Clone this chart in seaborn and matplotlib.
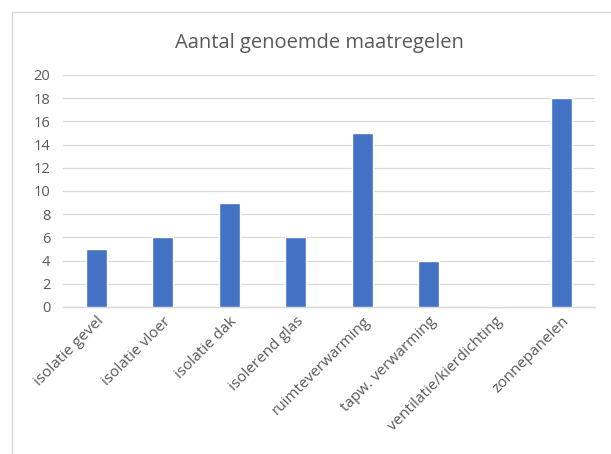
import matplotlib
matplotlib.use("Agg")
import matplotlib.pyplot as plt
import seaborn as sns
import pandas as pd
from matplotlib.patches import Rectangle

categories = ["isolatie gevel", "isolatie vloer", "isolatie dak", "isolerend glas",
              "ruimteverwarming", "tapw. verwarming", "ventilatie/kierdichting",
              "zonnepanelen"]
counts = [5, 6, 9, 6, 15, 4, 0, 18]
yticks = list(range(0, 21, 2))
title = "Aantal genoemde maatregelen"

sns.set_theme(style="white")
plt.rcParams["font.family"] = ["Open Sans", "DejaVu Sans"]

df = pd.DataFrame({"maatregel": categories, "aantal": counts})

fig = plt.figure(figsize=(6.11, 4.54), dpi=100)
ax = fig.add_axes([0.103, 0.324, 0.871, 0.511])

sns.barplot(data=df, x="maatregel", y="aantal", color="#4472C4",
            width=0.32, saturation=1, ax=ax, zorder=3)

ax.set_ylim(0, 20)
ax.set_yticks(yticks)
ax.set_xlim(-0.5, len(categories) - 0.5)
ax.yaxis.grid(True, color="#d9d9d9", linewidth=0.9, zorder=0)
ax.set_axisbelow(True)
for side in ["top", "right", "left"]:
    ax.spines[side].set_visible(False)
ax.spines["bottom"].set_color("#d9d9d9")
ax.spines["bottom"].set_linewidth(1.0)
ax.set_xlabel("")
ax.set_ylabel("")
ax.tick_params(axis="both", length=0, colors="#595959")
ax.tick_params(axis="y", pad=9, labelsize=10.5)
ax.tick_params(axis="x", pad=5, labelsize=11)
ax.set_xticks(range(len(categories)))
ax.set_xticklabels(categories, rotation=45, ha="right", rotation_mode="anchor",
                   color="#595959")

fig.text(0.522, 0.905, title, ha="center", va="center", fontsize=14.5, color="#595959")

# chart border
fig.patches.append(Rectangle((12 / 611, -0.05), 1.1, 1 - 12 / 454 + 0.05,
                             transform=fig.transFigure, fill=False,
                             edgecolor="#d9d9d9", linewidth=1.0))

fig.savefig("out.png", dpi=100)
